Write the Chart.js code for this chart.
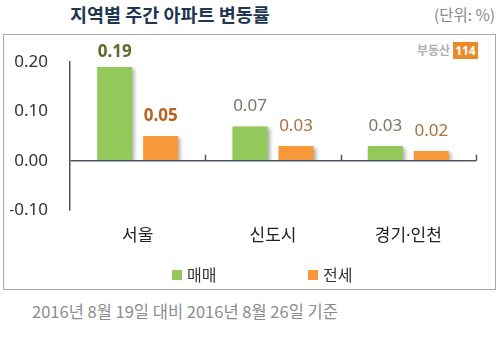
<!DOCTYPE html>
<html>
<head>
<meta charset="utf-8">
<script src="https://cdn.jsdelivr.net/npm/chart.js@4/dist/chart.umd.min.js"></script>
<style>
  html, body { margin: 0; padding: 0; background: #fff; }
  body { width: 500px; height: 340px; position: relative; overflow: hidden;
         font-family: "Noto Sans", "Noto Sans CJK KR", sans-serif; }
  #frame { position: absolute; left: 3px; top: 34px; width: 493px; height: 256px;
           border: 1px solid #a8a8a8; box-sizing: border-box; }
  #title { position: absolute; left: 70px; top: 1px; font-size: 18.5px; font-weight: bold;
           color: #1f3652; font-family: "Noto Sans CJK KR", sans-serif; }
  #unit { position: absolute; right: 5px; top: 3px; font-size: 15.5px; color: #8a8a8a;
          font-family: "Noto Sans CJK KR", sans-serif; }
  #note { position: absolute; left: 32px; top: 299px; font-size: 16.5px; color: #8c8c8c;
          font-family: "Noto Sans CJK KR", sans-serif; }
  #logo { position: absolute; left: 417px; top: 41px; font-size: 12px; font-weight: bold;
          color: #b0b0b0; font-family: "Noto Sans CJK KR", sans-serif; line-height: 17px; }
  #logo span { display: inline-block; background: #e98b2a; color: #fff; padding: 0 2px;
               margin-left: 3px; font-family: "Noto Sans", sans-serif; }
  canvas { position: absolute; left: 0; top: 0; }
</style>
</head>
<body>
<div id="frame"></div>
<div id="title">지역별 주간 아파트 변동률</div>
<div id="unit">(단위: %)</div>
<div id="logo">부동산<span>114</span></div>
<div id="note">2016년 8월 19일 대비 2016년 8월 26일 기준</div>
<canvas id="chart" width="500" height="340"></canvas>
<script>
// 데이터
const categories = ["서울", "신도시", "경기·인천"];
const seriesNames = ["매매", "전세"];
const maemae = [0.19, 0.07, 0.03];
const jeonse = [0.05, 0.03, 0.02];
const yTicks = [-0.10, 0.00, 0.10, 0.20];

const colores = ["#93c95a", "#f7993b"];
const labelColors = [["#5a6b2c", "#77776b", "#77776b"], ["#b9621f", "#a8703f", "#a8703f"]];
const labelBold = [true, false, false];

const FONT = '"Noto Sans", "Noto Sans CJK KR", sans-serif';

// 막대 그림자
const sombra = {
  id: "sombra",
  beforeDatasetsDraw(chart) {
    const ctx = chart.ctx;
    ctx.save();
    ctx.shadowColor = "rgba(0,0,0,0.35)";
    ctx.shadowBlur = 4;
    ctx.shadowOffsetX = 2;
    ctx.shadowOffsetY = 2;
  },
  afterDatasetsDraw(chart) {
    chart.ctx.restore();
  }
};

// 값 라벨, 축 눈금, 범례
const extras = {
  id: "extras",
  afterDraw(chart) {
    const ctx = chart.ctx;
    const x = chart.scales.x;
    const y = chart.scales.y;
    const y0 = y.getPixelForValue(0);

    // 카테고리 경계 눈금
    const paso = x.getPixelForValue(1) - x.getPixelForValue(0);
    ctx.save();
    ctx.strokeStyle = "#4a5566";
    ctx.lineWidth = 1.5;
    for (let i = 0; i < categories.length; i++) {
      const px = Math.round(x.getPixelForValue(i) + paso / 2) + 0.5;
      ctx.beginPath();
      ctx.moveTo(px, y0);
      ctx.lineTo(px, y0 - 6);
      ctx.stroke();
    }

    // 값
    ctx.textAlign = "center";
    ctx.textBaseline = "middle";
    chart.data.datasets.forEach((ds, d) => {
      const meta = chart.getDatasetMeta(d);
      meta.data.forEach((bar, i) => {
        ctx.font = (labelBold[i] ? "bold " : "") + "17px " + FONT;
        ctx.fillStyle = labelColors[d][i];
        const ty = Math.max(bar.y - 20, 52);
        ctx.fillText(ds.data[i].toFixed(2), bar.x, ty);
      });
    });

    // 범례
    const posX = [172, 308];
    ctx.textAlign = "left";
    ctx.font = "16px " + FONT;
    chart.data.datasets.forEach((ds, d) => {
      ctx.fillStyle = ds.backgroundColor;
      ctx.fillRect(posX[d], 270, 10, 10);
      ctx.fillStyle = "#333";
      ctx.fillText(ds.label, posX[d] + 15, 276);
    });
    ctx.restore();
  }
};

const datasets = [maemae, jeonse].map((vals, k) => ({
  label: seriesNames[k],
  data: vals,
  backgroundColor: colores[k],
  borderColor: "rgba(0,0,0,0)",
  borderWidth: { left: 5.5, right: 5.5, top: 0, bottom: 0 },
  borderSkipped: false,
  barPercentage: 1,
  categoryPercentage: 0.68
}));

new Chart(document.getElementById("chart"), {
  type: "bar",
  data: { labels: categories, datasets },
  options: {
    responsive: false,
    animation: false,
    events: [],
    layout: { padding: { left: 10, right: 24, top: 62, bottom: 90 } },
    plugins: {
      legend: { display: false },
      tooltip: { enabled: false }
    },
    scales: {
      x: {
        grid: { display: false, drawTicks: false },
        border: { display: false },
        ticks: { padding: 16, color: "#222", font: { size: 17, family: FONT } },
        afterFit(scale) { scale.height = 40; }
      },
      y: {
        min: yTicks[0],
        max: yTicks[yTicks.length - 1],
        afterBuildTicks(scale) { scale.ticks = yTicks.map(v => ({ value: v })); },
        grid: {
          drawTicks: false,
          lineWidth: 1.5,
          color: c => (Math.abs(c.tick.value) < 1e-9 ? "#4a5566" : "rgba(0,0,0,0)")
        },
        border: { display: true, color: "#4a5566", width: 1.5 },
        ticks: {
          padding: 22,
          color: "#333",
          font: { size: 17, family: FONT },
          callback: v => Number(v).toFixed(2)
        },
        afterFit(scale) { scale.width = 60; }
      }
    }
  },
  plugins: [sombra, extras]
});
</script>
</body>
</html>
